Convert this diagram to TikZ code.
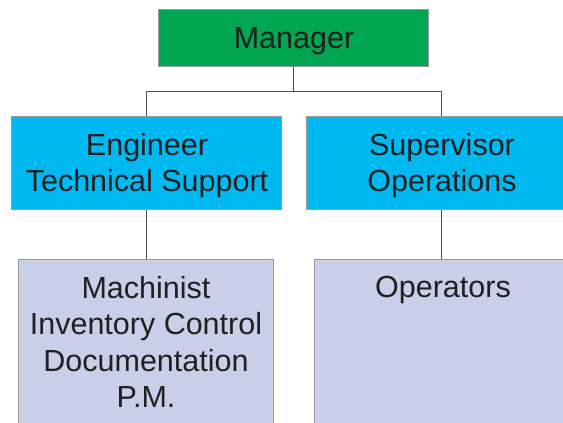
\documentclass[tikz,border=0pt]{standalone}
\usepackage{fontspec}
\setmainfont{Liberation Sans}
\definecolor{mgrfill}{HTML}{00A651}
\definecolor{midfill}{HTML}{00B9F1}
\definecolor{lowfill}{HTML}{C9CFE8}
\definecolor{boxline}{HTML}{9A9A9A}
\definecolor{connline}{HTML}{4D4D4D}
\definecolor{txt}{HTML}{231F20}
\begin{document}
\begin{tikzpicture}[x=1pt,y=-1pt,
  box/.style={draw=boxline, line width=0.9pt, inner sep=0pt, anchor=north west},
  lbl/.style={font=\fontsize{30.5}{36.5}\selectfont, text=txt, align=center, inner sep=0pt},
  conn/.style={draw=connline, line width=1pt}]
\useasboundingbox (0,0) rectangle (563,423);
\clip (0,0) rectangle (563,423);
% boxes
\node[box, fill=mgrfill, minimum width=270pt, minimum height=57pt] (mgr) at (158,9) {};
\node[box, fill=midfill, minimum width=270pt, minimum height=93pt] (eng) at (11,116) {};
\node[box, fill=midfill, minimum width=270pt, minimum height=93pt] (sup) at (306,116) {};
\node[box, fill=lowfill, minimum width=255pt, minimum height=180pt] (mach) at (18,259) {};
\node[box, fill=lowfill, minimum width=255pt, minimum height=180pt] (oper) at (314,259) {};
% texts
\node[lbl, anchor=base] (tmgr) at (294,48) {Manager};
\node[lbl, anchor=north] (teng) at (147,133) {Engineer\\Technical Support};
\node[lbl, anchor=north] (tsup) at (442,133) {Supervisor\\Operations};
\node[lbl, anchor=north] (tmach) at (146,276) {Machinist\\Inventory Control\\Documentation\\P.M.};
\node[lbl, anchor=north] (toper) at (443,276) {Operators};
% connectors
\draw[conn] (mgr.south) -- ++(0,25) coordinate (bus) -| (eng.north);
\draw[conn] (bus) -| (sup.north);
\draw[conn] (eng.south) -- (eng.south |- mach.north);
\draw[conn] (sup.south) -- (sup.south |- oper.north);
\end{tikzpicture}
\end{document}
